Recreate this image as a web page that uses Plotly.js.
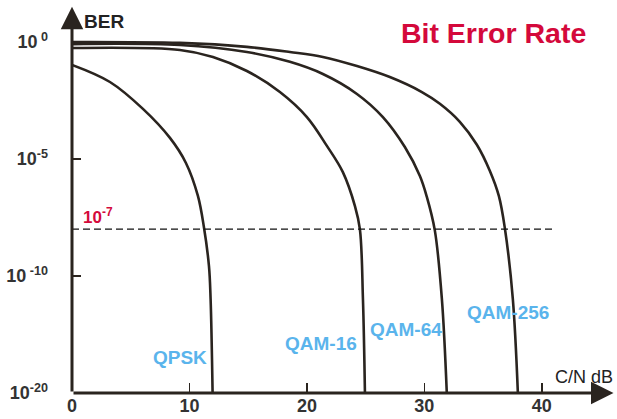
<!DOCTYPE html>
<html>
<head>
<meta charset="utf-8">
<script src="https://cdn.plot.ly/plotly-3.0.1.min.js"></script>
<style>html,body{margin:0;padding:0;background:#fff;}#chart{width:617px;height:419px;}</style>
</head>
<body>
<div id="chart"></div>
<script>
// y values are positions on the chart's schematic exponent scale (0 = 10^0, -5 = 10^-5, -10 = 10^-10, -15 = 10^-20)
const qpskX   = [0, 3.23, 6.04, 8.34, 9.70, 10.72, 11.23, 11.66, 11.80, 11.97];
const qpskY   = [-0.98, -1.71, -2.86, -4.10, -5.17, -6.58, -7.91, -9.57, -10.98, -15];
const qam16X  = [0, 9.19, 12.0, 14.89, 17.70, 20.0, 21.70, 23.06, 24.09, 24.51, 24.77, 24.94];
const qam16Y  = [-0.26, -0.34, -0.64, -1.24, -2.14, -3.21, -4.44, -5.56, -7.01, -8.0, -10.98, -15];
const qam64X  = [0, 9.19, 14.89, 18.55, 21.36, 24.26, 26.47, 28.34, 29.62, 30.21, 30.89, 31.49, 31.91];
const qam64Y  = [-0.09, -0.13, -0.43, -0.85, -1.37, -2.22, -3.21, -4.49, -5.73, -6.62, -8.05, -10.98, -15];
const qam256X = [0, 9.19, 14.89, 18.55, 21.36, 24.26, 27.06, 29.79, 31.32, 33.02, 34.47, 35.57, 36.34, 36.85, 37.53, 37.96];
const qam256Y = [0, -0.04, -0.21, -0.43, -0.64, -1.03, -1.50, -2.14, -2.64, -3.41, -4.39, -5.50, -6.58, -7.95, -10.98, -15];
const thresholdY = -8;
const thresholdX = [0, 40.9];
const xTicks = [0, 10, 20, 30, 40];
const yTickVals = [0, -5, -10, -15];
const yTickText = ['10<sup> 0</sup>', '10<sup>-5</sup>', '10<sup> -10</sup>', '10<sup>-20</sup>'];
const seriesNames = ['QPSK', 'QAM-16', 'QAM-64', 'QAM-256'];

const ink = '#2a241f';
const FAM = 'Liberation Sans, Arial, sans-serif';
const curveLine = {color: ink, width: 2.6, shape: 'spline', smoothing: 1};
const series = [[qpskX, qpskY], [qam16X, qam16Y], [qam64X, qam64Y], [qam256X, qam256Y]];
const traces = series.map((s, i) => ({
  x: s[0], y: s[1], mode: 'lines', name: seriesNames[i], line: curveLine, hoverinfo: 'skip'
}));
traces.push({
  x: thresholdX, y: [thresholdY, thresholdY], mode: 'lines',
  line: {color: '#111', width: 1.3, dash: '7px,4px'}, hoverinfo: 'skip'
});

const labelFont = {family: FAM, size: 19, color: '#5ab4ec', weight: 'bold'};
const labelPos = [[9.2, -13.5], [21.2, -12.9], [28.4, -12.3], [37.1, -11.55]];
const annotations = seriesNames.map((n, i) => ({
  x: labelPos[i][0], y: labelPos[i][1], xref: 'x', yref: 'y', text: n,
  showarrow: false, font: labelFont
}));
annotations.push(
  {x: 46.1, y: -15, ax: 0, ay: -15, xref: 'x', yref: 'y', axref: 'x', ayref: 'y',
   text: '', showarrow: true, arrowhead: 2, arrowsize: 1.5, arrowwidth: 3, arrowcolor: ink, standoff: 0},
  {x: 0, y: 1.5, ax: 0, ay: -15, xref: 'x', yref: 'y', axref: 'x', ayref: 'y',
   text: '', showarrow: true, arrowhead: 2, arrowsize: 1.5, arrowwidth: 3, arrowcolor: ink, standoff: 0},
  {x: 0.85, y: 0.88, xref: 'x', yref: 'y', text: 'BER', xanchor: 'left', showarrow: false,
   font: {family: FAM, size: 19, color: '#222', weight: 'bold'}},
  {x: 46.2, y: -14.3, xref: 'x', yref: 'y', text: 'C/N dB', xanchor: 'right', showarrow: false,
   font: {family: FAM, size: 18, color: '#222'}},
  {x: 0.8, y: -7.45, xref: 'x', yref: 'y', text: '10<sup>-7</sup>', xanchor: 'left', showarrow: false,
   font: {family: FAM, size: 17, color: '#d4093b', weight: 'bold'}}
);

const tickFont = {family: FAM, size: 18, color: '#333', weight: 'bold'};
const layout = {
  width: 617, height: 419,
  margin: {l: 72, r: 0, t: 5, b: 26},
  paper_bgcolor: '#fff', plot_bgcolor: '#fff',
  showlegend: false,
  title: {text: 'Bit Error Rate', x: 0.8, xref: 'container', xanchor: 'center',
          y: 0.92, yref: 'container', yanchor: 'middle',
          font: {family: FAM, size: 28.5, color: '#d4093b', weight: 'bold'}},
  xaxis: {range: [0, 46.4], tickvals: xTicks, ticktext: xTicks.map(String), ticks: 'inside',
          ticklen: 10, tickwidth: 1.5, tickcolor: ink, showgrid: false, zeroline: false,
          showline: false, tickfont: tickFont, fixedrange: true},
  yaxis: {range: [-15, 1.58], tickvals: yTickVals, ticktext: yTickText, ticks: 'inside',
          ticklen: 9, tickwidth: 1.5, tickcolor: ink, showgrid: false, zeroline: false,
          showline: false, tickfont: tickFont, ticklabelstandoff: 23, fixedrange: true},
  annotations: annotations
};
Plotly.newPlot('chart', traces, layout, {displayModeBar: false, staticPlot: true});
</script>
</body>
</html>
